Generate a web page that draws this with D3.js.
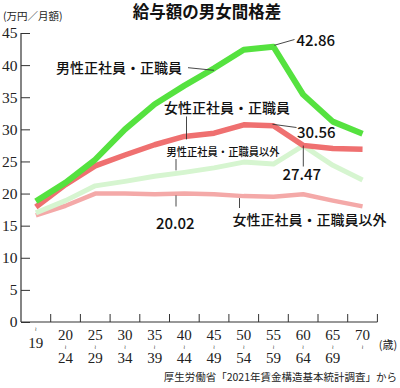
<!DOCTYPE html>
<html><head><meta charset="utf-8">
<script src="https://cdn.jsdelivr.net/npm/d3@7"></script>
<style>
html,body{margin:0;padding:0;background:#fff;}
svg{display:block;}
</style>
</head><body>
<svg id="c" width="400" height="388"></svg>
<script>
const categories = ["〜19","20〜24","25〜29","30〜34","35〜39","40〜44","45〜49","50〜54","55〜59","60〜64","65〜69","70〜"];
const maleRegular      = [18.8, 21.7, 25.3, 30.0, 33.9, 36.8, 39.5, 42.4, 42.86, 35.4, 31.2, 29.3];
const femaleRegular    = [17.9, 21.4, 24.3, 26.0, 27.6, 28.9, 29.4, 30.7, 30.56, 27.5, 27.0, 26.9];
const maleNonRegular   = [17.0, 18.9, 21.2, 21.9, 22.7, 23.3, 24.0, 24.9, 24.6, 27.47, 24.4, 22.1];
const femaleNonRegular = [16.6, 18.1, 20.0, 20.0, 19.9, 20.02, 19.9, 19.6, 19.5, 19.9, 18.9, 18.0];
const yTicks = [0,5,10,15,20,25,30,35,40,45];

const svg = d3.select("#c");
const SANS = "'Noto Sans CJK JP','Noto Sans',sans-serif";
const SERIF = "'Liberation Serif','DejaVu Serif',serif";

const x = d3.scaleBand().domain(categories).range([21, 377.4]).padding(0);
const y = d3.scaleLinear().domain([0,45]).range([322, 33]);
const cx = c => x(c) + x.bandwidth()/2;

// title
svg.append("text").attr("x",207).attr("y",18).attr("text-anchor","middle")
  .attr("font-family",SANS).attr("font-weight",700).attr("font-size",16.5).attr("fill","#111")
  .text("給与額の男女間格差");
svg.append("text").attr("x",3).attr("y",20).attr("font-family",SANS).attr("font-size",10.5).attr("fill","#222")
  .text("(万円／月額)");

// y axis
const ya = svg.append("g").attr("transform","translate(21,0)")
  .call(d3.axisLeft(y).tickValues(yTicks).tickSize(-9).tickPadding(3.5));
ya.select(".domain").attr("d","M0,"+y(45)+"V"+y(0)).attr("stroke","#333").attr("stroke-width",1.2);
ya.selectAll(".tick line").attr("stroke","#333");
ya.selectAll(".tick text").attr("font-family",SERIF).attr("font-size",15.5).attr("fill","#222");

// x axis
const xa = svg.append("g");
xa.append("line").attr("x1",21).attr("x2",377.4).attr("y1",y(0)).attr("y2",y(0)).attr("stroke","#333").attr("stroke-width",1.2);
xa.selectAll("line.tk").data(categories).join("line").attr("class","tk")
  .attr("x1",d=>x(d)+x.bandwidth()).attr("x2",d=>x(d)+x.bandwidth())
  .attr("y1",y(0)).attr("y2",y(0)-8).attr("stroke","#333");
categories.forEach((c,i)=>{
  const [a,b] = c.split("〜");
  const g = xa.append("g").attr("font-family",SERIF).attr("fill","#222").attr("text-anchor","middle");
  if (a === "") {
    g.append("text").attr("x",cx(c)).attr("y",330.5).attr("font-size",5.5).attr("font-family","DejaVu Sans").text("≀");
    g.append("text").attr("x",cx(c)).attr("y",347.5).attr("font-size",15).text(b);
  } else {
    g.append("text").attr("x",cx(c)).attr("y",340).attr("font-size",15).text(a);
    g.append("text").attr("x",cx(c)).attr("y",348.5).attr("font-size",5.5).attr("font-family","DejaVu Sans").text("≀");
    if (b) g.append("text").attr("x",cx(c)).attr("y",363).attr("font-size",15).text(b);
  }
});
svg.append("text").attr("x",388).attr("y",349).attr("text-anchor","middle").attr("font-family",SANS)
  .attr("font-size",11).attr("fill","#222").text("(歳)");

// lines
const line = d3.line().x((d,i)=>cx(categories[i])).y(d=>y(d));
const series = [
  {v:femaleNonRegular, c:"#f4a9a8", w:4.5},
  {v:maleNonRegular,   c:"#d6f5d0", w:5},
  {v:femaleRegular,    c:"#ef7070", w:5.5},
  {v:maleRegular,      c:"#55e23f", w:6}
];
svg.append("g").selectAll("path").data(series).join("path")
  .attr("d",d=>line(d.v)).attr("fill","none").attr("stroke",d=>d.c).attr("stroke-width",d=>d.w)
  .attr("stroke-linejoin","round").attr("stroke-linecap","butt");

// annotations
const ann = svg.append("g").attr("font-family",SANS).attr("fill","#111");
const lead = (x1,y1,x2,y2)=>svg.append("line").attr("x1",x1).attr("y1",y1).attr("x2",x2).attr("y2",y2).attr("stroke","#333").attr("stroke-width",0.9);

ann.append("text").attr("x",56).attr("y",72.5).attr("font-size",14).attr("font-weight",500).text("男性正社員・正職員");
lead(188,67.7,cx(categories[6]),y(maleRegular[6])+2);

ann.append("text").attr("x",164).attr("y",113).attr("font-size",14).attr("font-weight",500).text("女性正社員・正職員");
lead(186.5,116.5,186.5,y(femaleRegular[5])+3);

ann.append("text").attr("x",166.5).attr("y",156).attr("font-size",11).attr("font-weight",500)
  .attr("textLength",113).attr("lengthAdjust","spacingAndGlyphs").text("男性正社員・正職員以外");
lead(176,159,176,y(maleNonRegular[5])-2);

ann.append("text").attr("x",156).attr("y",229).attr("font-size",15).attr("font-weight",500).text("20.02");
lead(176,y(femaleNonRegular[5])+2,176,206.5);

ann.append("text").attr("x",232.5).attr("y",224.5).attr("font-size",14).attr("font-weight",500).text("女性正社員・正職員以外");
lead(239.5,y(femaleNonRegular[7])+2,239.5,208);

ann.append("text").attr("x",296.5).attr("y",45.5).attr("font-size",15).attr("font-weight",500).text("42.86");
lead(cx(categories[8])+1,y(maleRegular[8])-1.5,294.5,39.5);

ann.append("text").attr("x",297).attr("y",138).attr("font-size",15).attr("font-weight",500).text("30.56");
lead(cx(categories[8])-1,y(femaleRegular[8])-1.5,296.5,127.5);

ann.append("text").attr("x",282.5).attr("y",180).attr("font-size",15).attr("font-weight",500).text("27.47");
lead(303.3,y(maleNonRegular[9]),303.3,166.5);

// source
svg.append("text").attr("x",397).attr("y",381).attr("text-anchor","end").attr("font-family",SANS)
  .attr("font-size",10.5).attr("fill","#222").text("厚生労働省「2021年賃金構造基本統計調査」から");
</script>
</body></html>
